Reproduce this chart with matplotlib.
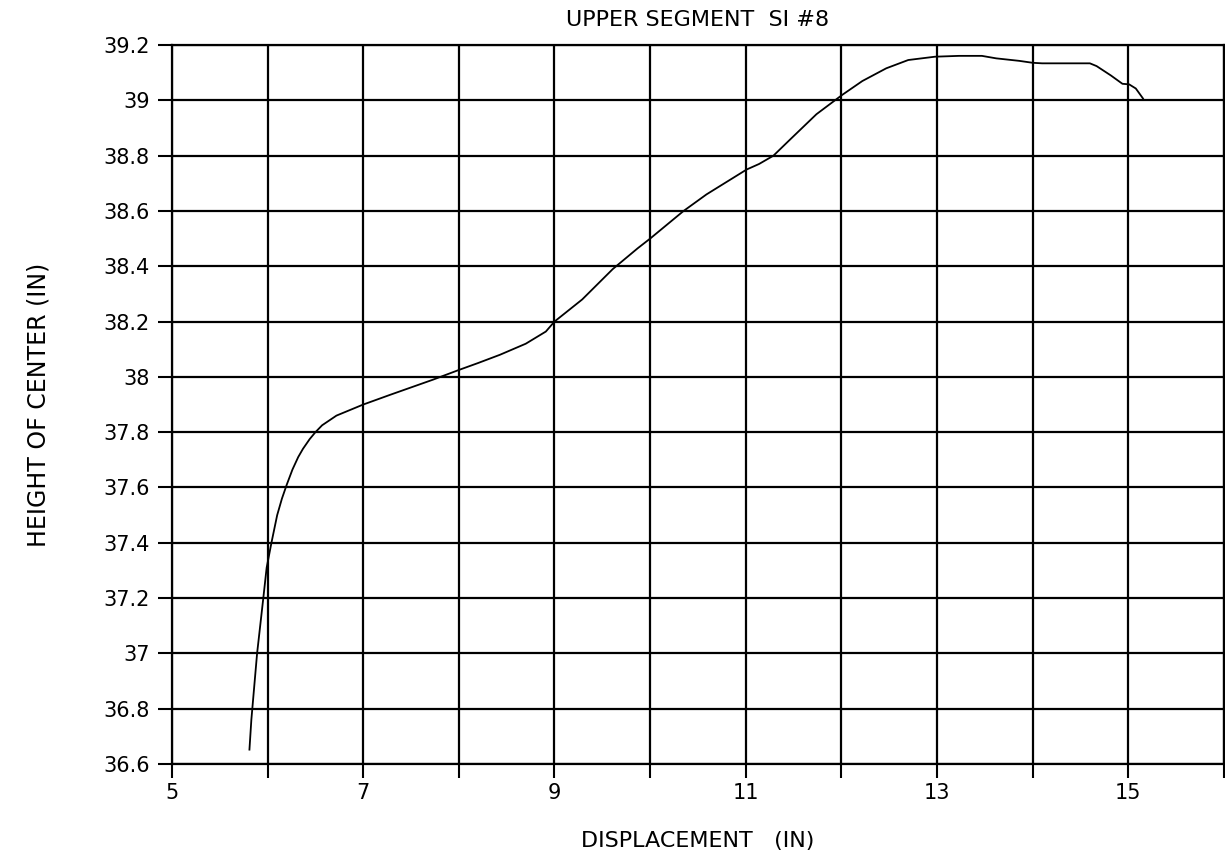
import numpy as np
import matplotlib.pyplot as plt

# displacement (in) and height of center (in)
disp = [5.81, 5.83, 5.89, 5.955, 5.99, 6.04, 6.10, 6.15, 6.20, 6.26, 6.32, 6.37,
        6.44, 6.50, 6.57, 6.72, 7.0, 7.28, 7.73, 8.0, 8.2, 8.43, 8.7, 8.91, 9.0,
        9.29, 9.61, 9.87, 10.0, 10.35, 10.59, 11.01, 11.14, 11.29, 11.46, 11.74,
        12.01, 12.22, 12.47, 12.70, 12.98, 13.23, 13.47, 13.62, 13.86, 14.0,
        14.10, 14.60, 14.67, 14.82, 14.94, 15.01, 15.08, 15.155]
height = [36.652, 36.76, 37.0, 37.2, 37.31, 37.4, 37.5, 37.56, 37.61, 37.665,
          37.71, 37.74, 37.775, 37.80, 37.825, 37.86, 37.90, 37.935, 37.99, 38.025,
          38.05, 38.08, 38.12, 38.164, 38.2, 38.28, 38.39, 38.465, 38.50, 38.60,
          38.66, 38.75, 38.77, 38.80, 38.857, 38.95, 39.02, 39.07, 39.116, 39.146,
          39.158, 39.161, 39.161, 39.152, 39.143, 39.136, 39.134, 39.134, 39.124,
          39.09, 39.06, 39.058, 39.043, 39.007]

x_ticks = list(range(5, 17))
x_labels = ['5', '', '7', '', '9', '', '11', '', '13', '', '15', '']
y_ticks = np.round(np.arange(36.6, 39.21, 0.2), 1)
y_labels = ['36.6', '36.8', '37', '37.2', '37.4', '37.6', '37.8', '38',
            '38.2', '38.4', '38.6', '38.8', '39', '39.2']

fig = plt.figure(figsize=(12.25, 8.67), dpi=100)
ax = fig.add_axes([0.1404, 0.1188, 0.8586, 0.8292])

ax.plot(disp, height, color='black', lw=1.3)

ax.set_xlim(5, 16)
ax.set_ylim(36.6, 39.2)
ax.set_xticks(x_ticks)
ax.set_xticklabels(x_labels)
ax.set_yticks(y_ticks)
ax.set_yticklabels(y_labels)
ax.tick_params(direction='out', length=10, width=1.5, labelsize=15, pad=6)
ax.tick_params(axis='x', pad=4)
ax.grid(True, color='black', lw=1.6)
for s in ax.spines.values():
    s.set_linewidth(1.6)

ax.set_title('UPPER SEGMENT  SI #8', fontsize=16, pad=14)
ax.set_xlabel('DISPLACEMENT   (IN)', fontsize=16, labelpad=20)
ax.set_ylabel('HEIGHT OF CENTER (IN)', fontsize=17, labelpad=38)

fig.savefig('out.png', dpi=100)
